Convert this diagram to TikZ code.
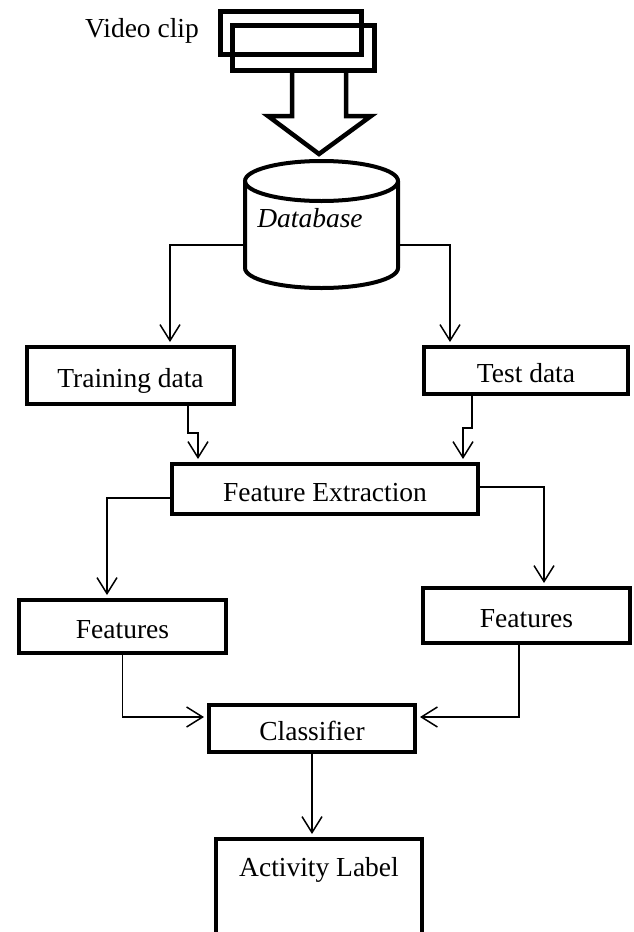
\documentclass[tikz,border=0pt]{standalone}
\usepackage{fontspec}
\setmainfont{Liberation Serif}
\usetikzlibrary{arrows.meta}
\begin{document}
\begin{tikzpicture}[x=1pt,y=1pt,
  txt/.style={font=\fontsize{27.5}{31}\selectfont},
  box/.style={draw, line width=4pt, inner sep=0pt, text height=24pt, text depth=0pt, txt},
  clipbox/.style={draw, line width=4.5pt, inner sep=0pt},
  conn/.style={line width=1.5pt, -{Straight Barb[length=16pt,width=20pt]}, shorten >=3pt},
  heavy/.style={line width=4.5pt, line join=miter},
  dbline/.style={line width=4pt}]
\useasboundingbox (0,0) rectangle (634,-932);
\clip (0,0) rectangle (634,-932);

% video clip
\node[txt] (vc) at (142,-31) {Video clip};
\node[clipbox, minimum width=141pt, minimum height=43pt] (clipback) at (291,-33) {};
\node[clipbox, minimum width=142pt, minimum height=45pt] (clipfront) at (303.5,-48) {};

% block arrow
\draw[heavy] (292,-70.5) -- (292,-116) -- (268,-116) -- (319,-154) -- (371,-116) -- (346,-116) -- (346,-70.5);

% database cylinder
\draw[dbline] (245,-181) -- (245,-268) arc[start angle=180, end angle=360, x radius=76.5pt, y radius=20pt] -- (398,-181);
\draw[dbline] (321.5,-181) ellipse [x radius=76.5pt, y radius=20pt];
\node[txt, font=\fontsize{27.5}{31}\selectfont\itshape] (db) at (310,-218) {Database};
\coordinate (dbw) at (243,-245);
\coordinate (dbe) at (400,-245);

% boxes
\node[box, minimum width=207pt, minimum height=57pt] (train) at (130.5,-375.5) {Training data};
\node[box, minimum width=204pt, minimum height=47pt] (test) at (526,-370.5) {Test data};
\node[box, minimum width=306pt, minimum height=50pt] (fe) at (325,-489) {Feature Extraction};
\node[box, minimum width=207pt, minimum height=53pt] (featL) at (122.5,-626.5) {Features};
\node[box, minimum width=207pt, minimum height=55pt] (featR) at (526.5,-615.5) {Features};
\node[box, minimum width=206pt, minimum height=47pt] (cls) at (312,-728.5) {Classifier};
\node[box, minimum width=206pt, inner ysep=13pt, text depth=120pt, anchor=north] (act) at (319,-837) {Activity Label};

% connectors
\draw[conn] (dbw) -| ([xshift=39.5pt]train.north);
\draw[conn] (dbe) -| ([xshift=-76pt]test.north);
\draw[conn] ([xshift=57.5pt]train.south) -- ++(0,-27) -| ([xshift=-127pt]fe.north);
\draw[conn] ([xshift=-54pt]test.south) -- ++(0,-32) -| ([xshift=138pt]fe.north);
\draw[conn] ([yshift=-9pt]fe.west) -| ([xshift=-15.5pt]featL.north);
\draw[conn] ([yshift=2pt]fe.east) -| ([xshift=17.5pt]featR.north);
\draw[conn] (featL.south) |- ([yshift=11.5pt]cls.west);
\draw[conn] ([xshift=-7.5pt]featR.south) |- ([yshift=11.5pt]cls.east);
\draw[conn] (cls.south) -- (cls.south |- act.north);
\end{tikzpicture}
\end{document}
